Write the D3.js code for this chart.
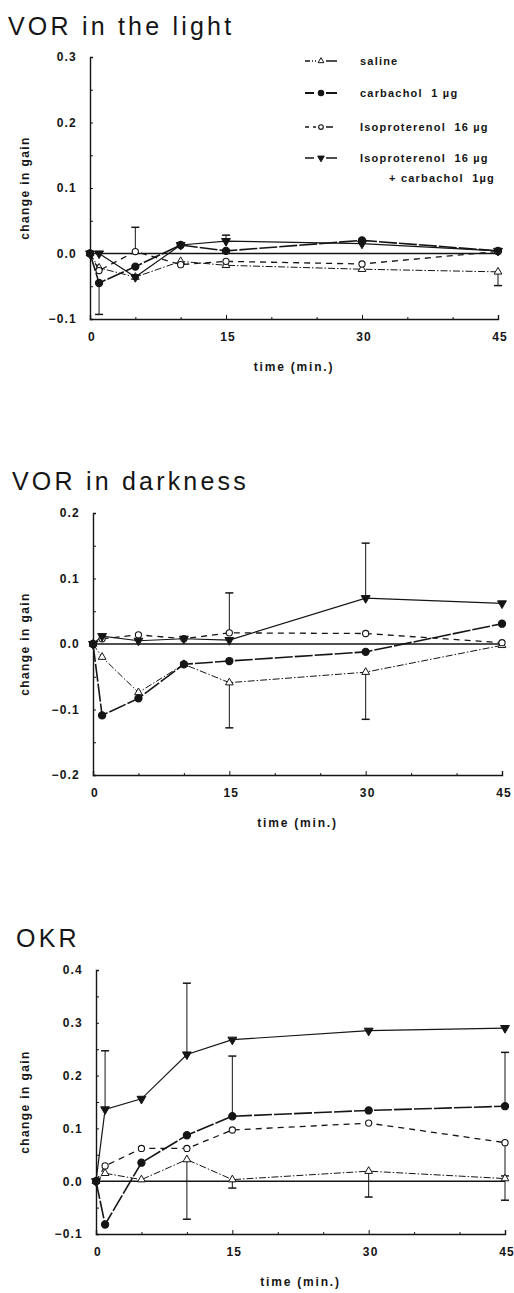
<!DOCTYPE html>
<html><head><meta charset="utf-8">
<script src="https://cdn.jsdelivr.net/npm/d3@7"></script>
<style>body{margin:0;background:#fff}svg{display:block}</style>
</head><body><svg id="c" width="514" height="1293"></svg>
<script>
// ---------- data ----------
const times = [0, 1, 5, 10, 15, 30, 45];
const seriesKeys = ["saline", "carbachol", "isoproterenol", "isoCarb"];
const legendLabels = ["saline", "carbachol  1 µg", "Isoproterenol  16 µg", "Isoproterenol  16 µg"];
const legendExtra = "+ carbachol  1µg";
const panelTitles = ["VOR in the light", "VOR in darkness", "OKR"];
const xTickLabels = [0, 15, 30, 45];
const xMinorTicks = [5, 10, 20, 25, 35, 40];
const yTicksLight = [-0.1, 0.0, 0.1, 0.2, 0.3];
const yTicksDark = [-0.2, -0.1, 0.0, 0.1, 0.2];
const yTicksOKR = [-0.1, 0.0, 0.1, 0.2, 0.3, 0.4];
const yAxisTitle = "change in gain";
const xAxisTitle = "time (min.)";

// VOR in the light
const lightSaline = [0, -0.022, -0.036, -0.012, -0.018, -0.024, -0.028];
const lightCarbachol = [0, -0.045, -0.020, 0.013, 0.004, 0.020, 0.004];
const lightIso = [0, -0.026, 0.003, -0.017, -0.012, -0.016, 0.003];
const lightIsoCarb = [0, 0.000, -0.036, 0.013, 0.019, 0.015, 0.004];
// error bars: [series, time, end value]
const lightErr = [["carbachol", 1, -0.093], ["isoproterenol", 5, 0.040], ["isoCarb", 15, 0.028], ["saline", 45, -0.049]];

// VOR in darkness
const darkSaline = [0, -0.020, -0.074, -0.031, -0.059, -0.043, -0.002];
const darkCarbachol = [0, -0.109, -0.083, -0.031, -0.026, -0.012, 0.031];
const darkIso = [0, 0.008, 0.014, 0.008, 0.017, 0.016, 0.002];
const darkIsoCarb = [0, 0.012, 0.005, 0.008, 0.006, 0.070, 0.062];
const darkErr = [["saline", 15, -0.128], ["isoproterenol", 15, 0.078], ["isoCarb", 30, 0.154], ["saline", 30, -0.115]];

// OKR
const okrSaline = [0, 0.015, 0.003, 0.041, 0.003, 0.019, 0.005];
const okrCarbachol = [0, -0.082, 0.035, 0.087, 0.123, 0.134, 0.142];
const okrIso = [0, 0.029, 0.062, 0.062, 0.097, 0.110, 0.073];
const okrIsoCarb = [0, 0.136, 0.156, 0.240, 0.268, 0.285, 0.290];
const okrErr = [["isoCarb", 1, 0.247], ["isoCarb", 10, 0.375], ["saline", 10, -0.072], ["carbachol", 15, 0.237],
                ["saline", 15, -0.013], ["saline", 30, -0.030], ["carbachol", 45, 0.244], ["isoproterenol", 45, 0.010], ["saline", 45, -0.036]];

// ---------- styles ----------
const FONT = "'Liberation Sans', Arial, Helvetica, sans-serif";
const INK = "#151515";
const styles = {
  saline:        {dash: "7,2,1.5,2", width: 1.0, symbol: "triUp",  fill: "#fff"},
  carbachol:     {dash: "18,2",      width: 1.6, symbol: "circle", fill: INK},
  isoproterenol: {dash: "6,5",       width: 1.3, symbol: "circle", fill: "#fff"},
  isoCarb:       {dash: null,        width: 1.2, symbol: "triDown",fill: INK}
};

const panels = [
  {title: panelTitles[0], titleX: 8,  titleY: 35,  x0: 90, x1: 498, yTopPx: 57,  yBotPx: 319, ticks: yTicksLight,
   data: {saline: lightSaline, carbachol: lightCarbachol, isoproterenol: lightIso, isoCarb: lightIsoCarb}, err: lightErr, legend: true},
  {title: panelTitles[1], titleX: 12, titleY: 490, x0: 93, x1: 502, yTopPx: 513, yBotPx: 775, ticks: yTicksDark,
   data: {saline: darkSaline, carbachol: darkCarbachol, isoproterenol: darkIso, isoCarb: darkIsoCarb}, err: darkErr},
  {title: panelTitles[2], titleX: 16, titleY: 947, x0: 96, x1: 505, yTopPx: 970, yBotPx: 1234, ticks: yTicksOKR,
   data: {saline: okrSaline, carbachol: okrCarbachol, isoproterenol: okrIso, isoCarb: okrIsoCarb}, err: okrErr}
];

const svg = d3.select("#c");
svg.append("rect").attr("width", 514).attr("height", 1293).attr("fill", "#fff");

function drawMarker(g, key, cx, cy, scale) {
  const s = scale || 1;
  const st = styles[key];
  if (st.symbol === "circle") {
    g.append("circle").attr("cx", cx).attr("cy", cy).attr("r", (key === "carbachol" ? 3.6 : 3.1) * s)
      .attr("fill", st.fill).attr("stroke", INK).attr("stroke-width", 1.1);
  } else {
    const sym = d3.symbol().type(d3.symbolTriangle).size((key === "isoCarb" ? 34 : 26) * s * s);
    g.append("path").attr("d", sym())
      .attr("transform", `translate(${cx},${cy})` + (st.symbol === "triDown" ? " rotate(180)" : ""))
      .attr("fill", st.fill).attr("stroke", INK).attr("stroke-width", 1.0);
  }
}

panels.forEach(p => {
  const dom = d3.extent(p.ticks);
  const x = d3.scaleLinear().domain([0, 45]).range([p.x0, p.x1]);
  const y = d3.scaleLinear().domain(dom).range([p.yBotPx, p.yTopPx]);
  const g = svg.append("g");

  // title
  g.append("text").attr("x", p.titleX).attr("y", p.titleY).text(p.title)
    .attr("font-family", FONT).attr("font-size", 25).attr("letter-spacing", "3.2px").attr("fill", INK);

  // y axis
  const yAxis = d3.axisRight(y).tickValues(d3.range(dom[0], dom[1] + 1e-9, 0.05)).tickSize(3).tickFormat("");
  const ya = g.append("g").attr("transform", `translate(${x(0)},0)`).call(yAxis);
  ya.select(".domain").attr("stroke", INK).attr("stroke-width", 1.4);
  ya.selectAll(".tick line").attr("stroke", INK).attr("stroke-width", 1);
  g.selectAll(".ylab").data(p.ticks).enter().append("text")
    .attr("x", x(0) - 13).attr("y", d => y(d)).attr("dy", "0.36em").attr("text-anchor", "end")
    .attr("font-family", FONT).attr("font-size", 12).attr("font-weight", "bold").attr("letter-spacing", "1.2px").attr("fill", INK)
    .text(d => d3.format(".1f")(d));

  // x axis
  const xAxisMajor = d3.axisTop(x).tickValues(xTickLabels).tickSize(4).tickFormat("");
  const xa = g.append("g").attr("transform", `translate(0,${y(dom[0])})`).call(xAxisMajor);
  xa.select(".domain").attr("stroke", INK).attr("stroke-width", 1.4);
  xa.selectAll(".tick line").attr("stroke", INK).attr("stroke-width", 1);
  const xm = g.append("g").attr("transform", `translate(0,${y(dom[0])})`)
    .call(d3.axisTop(x).tickValues(xMinorTicks).tickSize(2).tickFormat(""));
  xm.select(".domain").remove();
  xm.selectAll(".tick line").attr("stroke", INK).attr("stroke-width", 1);
  g.selectAll(".xlab").data(xTickLabels).enter().append("text")
    .attr("x", d => x(d) + 2).attr("y", y(dom[0]) + 22).attr("text-anchor", "middle")
    .attr("font-family", FONT).attr("font-size", 12).attr("font-weight", "bold").attr("letter-spacing", "1.2px").attr("fill", INK)
    .text(d => d);
  g.append("text").attr("x", (x(0) + x(45)) / 2).attr("y", y(dom[0]) + 52).attr("text-anchor", "middle")
    .attr("font-family", FONT).attr("font-size", 12).attr("font-weight", "bold").attr("letter-spacing", "1.8px").attr("fill", INK)
    .text(xAxisTitle);
  g.append("text").attr("transform", `translate(29,${(y(dom[0]) + y(dom[1])) / 2}) rotate(-90)`)
    .attr("text-anchor", "middle")
    .attr("font-family", FONT).attr("font-size", 12).attr("font-weight", "bold").attr("letter-spacing", "1.4px").attr("fill", INK)
    .text(yAxisTitle);

  // zero reference line
  g.append("line").attr("x1", x(0)).attr("x2", x(45)).attr("y1", y(0)).attr("y2", y(0))
    .attr("stroke", INK).attr("stroke-width", 1.6);

  // error bars
  p.err.forEach(([key, t, end]) => {
    const i = times.indexOf(t);
    const v = p.data[key][i];
    g.append("line").attr("x1", x(t)).attr("x2", x(t)).attr("y1", y(v)).attr("y2", y(end))
      .attr("stroke", INK).attr("stroke-width", 1);
    g.append("line").attr("x1", x(t) - 4).attr("x2", x(t) + 4).attr("y1", y(end)).attr("y2", y(end))
      .attr("stroke", INK).attr("stroke-width", 1.5);
  });

  // lines
  const line = d3.line().x((d, i) => x(times[i])).y(d => y(d));
  seriesKeys.forEach(key => {
    const st = styles[key];
    g.append("path").datum(p.data[key]).attr("d", line).attr("fill", "none")
      .attr("stroke", INK).attr("stroke-width", st.width)
      .attr("stroke-dasharray", st.dash);
  });
  // markers
  seriesKeys.forEach(key => {
    p.data[key].forEach((v, i) => drawMarker(g, key, x(times[i]), y(v)));
  });

  // legend
  if (p.legend) {
    const rows = [61, 93, 127, 158];
    seriesKeys.forEach((key, k) => {
      const st = styles[key];
      const ly = rows[k];
      g.append("line").attr("x1", 305).attr("x2", 337).attr("y1", ly).attr("y2", ly)
        .attr("stroke", INK).attr("stroke-width", st.width + 0.3)
        .attr("stroke-dasharray", key === "saline" ? "5,2,1,2,3,3,20" : key === "isoproterenol" ? "4,4,20" : "9,5,20");
      g.append("rect").attr("x", 316).attr("y", ly - 4).attr("width", 10).attr("height", 8).attr("fill", "#fff");
      drawMarker(g, key, 321, ly, 0.75);
      g.append("text").attr("x", 360).attr("y", ly).attr("dy", "0.36em")
        .attr("font-family", FONT).attr("font-size", 11).attr("font-weight", "bold").attr("letter-spacing", "1.2px").attr("fill", INK)
        .style("white-space", "pre")
        .text(legendLabels[k]);
    });
    g.append("text").attr("x", 495).attr("y", 178).attr("dy", "0.36em").attr("text-anchor", "end")
      .attr("font-family", FONT).attr("font-size", 11).attr("font-weight", "bold").attr("letter-spacing", "1.2px").attr("fill", INK)
      .style("white-space", "pre")
      .text(legendExtra);
  }
});
</script>
</body></html>
